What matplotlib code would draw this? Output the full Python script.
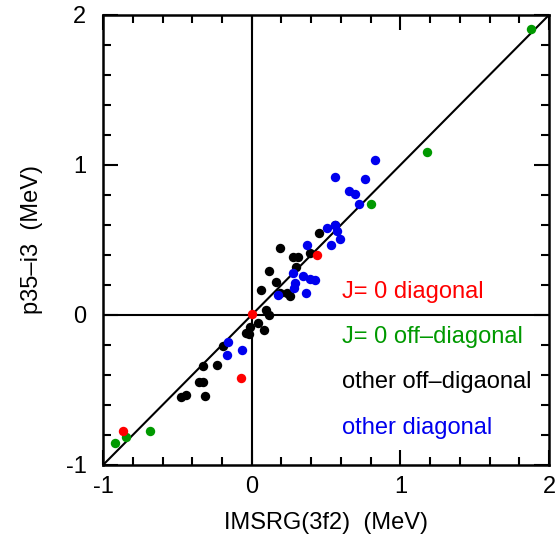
import matplotlib
matplotlib.use("Agg")
import matplotlib.pyplot as plt
from matplotlib.ticker import MultipleLocator

plt.rcParams['font.family'] = ['Liberation Sans', 'DejaVu Sans']
plt.rcParams['axes.unicode_minus'] = False

# J=0 diagonal (red)
red_x = [0.005, 0.438, -0.069, -0.869]
red_y = [0.005, 0.398, -0.418, -0.771]
# J=0 off-diagonal (green)
green_x = [1.881, 1.179, 0.802, -0.681, -0.848, -0.921]
green_y = [1.904, 1.088, 0.739, -0.771, -0.812, -0.853]
# other off-diagonal (black)
black_x = [0.562, 0.452, 0.190, 0.395, 0.276, 0.314, 0.297, 0.114, 0.165, 0.062,
           0.235, 0.258, 0.190, 0.097, 0.114, 0.040, 0.083, -0.012, -0.040, -0.017,
           -0.190, -0.329, -0.236, -0.357, -0.329, -0.314, -0.476, -0.443]
black_y = [0.597, 0.547, 0.444, 0.414, 0.388, 0.388, 0.322, 0.291, 0.217, 0.166,
           0.148, 0.127, 0.145, 0.031, 0.000, -0.056, -0.097, -0.079, -0.120, -0.125,
           -0.205, -0.338, -0.331, -0.446, -0.446, -0.542, -0.549, -0.533]
# other diagonal (blue)
blue_x = [0.831, 0.562, 0.762, 0.655, 0.695, 0.719, 0.504, 0.557, 0.574, 0.595,
          0.535, 0.369, 0.276, 0.343, 0.390, 0.426, 0.294, 0.284, 0.366, 0.177,
          -0.157, -0.167, -0.062]
blue_y = [1.033, 0.918, 0.909, 0.826, 0.804, 0.739, 0.578, 0.600, 0.558, 0.505,
          0.467, 0.464, 0.280, 0.263, 0.239, 0.232, 0.215, 0.177, 0.146, 0.133,
          -0.182, -0.269, -0.235]

labels = ["J= 0 diagonal", "J= 0 off\u2013diagonal", "other off\u2013digaonal", "other diagonal"]
label_colors = ["#ff0000", "#009900", "#000000", "#0000ee"]
label_y = [0.15, -0.15, -0.45, -0.755]

fig = plt.figure(figsize=(5.57, 5.39), dpi=100)
ax = fig.add_axes([0.185, 0.1373, 0.8007, 0.835])

ax.plot([-1, 2], [-1, 2], color='black', lw=1.5, zorder=1)
ax.axvline(0, color='black', lw=1.5, zorder=1)
ax.axhline(0, color='black', lw=1.5, zorder=1)

ms = 46
ax.scatter(black_x, black_y, s=ms, color='black', zorder=3, linewidths=0)
ax.scatter(blue_x, blue_y, s=ms, color=label_colors[3], zorder=3, linewidths=0)
ax.scatter(green_x, green_y, s=ms, color=label_colors[1], zorder=4, linewidths=0)
ax.scatter(red_x, red_y, s=ms, color=label_colors[0], zorder=5, linewidths=0)

for t, c, yy in zip(labels, label_colors, label_y):
    ax.text(0.607, yy, t, color=c, fontsize=17, va='center', ha='left')

ax.set_xlim(-1, 2)
ax.set_ylim(-1, 2)
ax.xaxis.set_major_locator(MultipleLocator(1))
ax.xaxis.set_minor_locator(MultipleLocator(0.2))
ax.yaxis.set_major_locator(MultipleLocator(1))
ax.yaxis.set_minor_locator(MultipleLocator(0.2))
ax.tick_params(which='both', direction='in', top=True, right=True, width=1.5)
ax.tick_params(which='major', length=11, labelsize=17, pad=8)
ax.tick_params(axis='y', which='major', pad=12)
ax.tick_params(which='minor', length=6)
for s in ax.spines.values():
    s.set_linewidth(1.8)

ax.set_xlabel("IMSRG(3f2)  (MeV)", fontsize=17, labelpad=10)
ax.set_ylabel("p35\u2013i3  (MeV)", fontsize=17, labelpad=16)

fig.savefig("out.png", dpi=100)
